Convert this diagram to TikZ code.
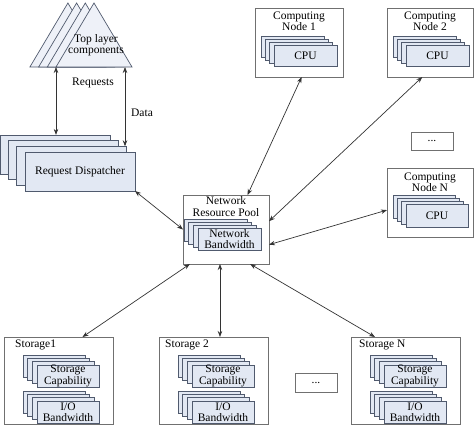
\documentclass[tikz,border=0pt]{standalone}
\usepackage{fontspec}
\setmainfont{Liberation Serif}
\usetikzlibrary{arrows.meta,calc}
\definecolor{stkfill}{HTML}{E2E8F3}
\definecolor{stkline}{HTML}{505A6E}
\definecolor{boxline}{HTML}{707070}
\definecolor{arr}{HTML}{333333}
\tikzset{
  stkbox/.style={draw=stkline, fill=stkfill, line width=0.7pt, inner sep=0pt, outer sep=0pt,
     font=\fontsize{11.5}{11.5}\selectfont, align=center},
  outbox/.style={draw=boxline, fill=white, line width=0.8pt, inner sep=0pt, outer sep=0pt, anchor=north west},
  ttl/.style={font=\fontsize{11.5}{11.5}\selectfont, align=center, inner sep=0pt},
  lbl/.style={font=\fontsize{11.5}{11.5}\selectfont, inner sep=0pt},
  link/.style={draw=arr, line width=0.7pt, {Stealth[length=6pt,width=4.5pt]}-{Stealth[length=6pt,width=4.5pt]}},
  tri/.style={draw=stkline, fill=stkfill!60!white, line width=0.7pt, line join=miter}
}
% #1 name, #2 x, #3 y (front NW), #4 w, #5 h, #6 dx, #7 dy, #8 text
\newcommand\stk[8]{%
  \foreach \i in {3,2,1}{%
    \node[stkbox, minimum width=#4pt, minimum height=#5pt, anchor=north west] (#1\i) at ({#2-\i*#6},{#3-\i*#7}) {};
  }
  \node[stkbox, minimum width=#4pt, minimum height=#5pt, anchor=north west] (#1) at (#2,#3) {#8};
}
\newcommand\obox[5]{% name, x, y, w, h
  \node[outbox, minimum width=#4pt, minimum height=#5pt] (#1) at (#2,#3) {};
}
\begin{document}
\begin{tikzpicture}[x=1pt,y=-1pt]
\useasboundingbox (0,0) rectangle (474,425);
% top layer triangles
\foreach \i in {3,2,1,0}{
  \draw[tri] ({94-8.7*\i},3) -- ({132-8.7*\i},67) -- ({56-8.7*\i},67) -- cycle;
}
\node[ttl] (toplbl) at (96,45) {Top layer\\components};
\coordinate (reqtop) at (56,67);
\coordinate (datatop) at (125,67);
% request dispatcher
\stk{disp}{25}{152}{110}{39}{8.3}{5.7}{Request Dispatcher}
% computing nodes
\obox{n1}{255}{8}{88}{69}
\node[ttl] (n1t) at (299,21.5) {Computing\\Node 1};
\stk{cpua}{274}{45}{63}{21}{4.3}{3}{CPU}
\obox{n2}{387}{8}{86}{69}
\node[ttl] (n2t) at (430,21.5) {Computing\\Node 2};
\stk{cpub}{406}{45}{63}{21}{4.3}{3}{CPU}
\node[outbox, minimum width=42pt, minimum height=18pt, ttl] (dotsa) at (411,132) {};
\node[lbl] (dotsat) at (dotsa.center) {...};
\obox{nN}{387}{168}{86}{69}
\node[ttl] (nNt) at (430,182) {Computing\\Node N};
\stk{cpun}{406}{204}{62}{23}{4.3}{3}{CPU}
% network pool
\obox{pool}{183}{195}{86}{69}
\node[ttl] (poolt) at (226,206.5) {Network\\Resource Pool};
\stk{bw}{198}{228}{63}{22}{4.7}{3}{Network\\Bandwidth}
% storages
\obox{s1}{4}{337}{109}{87}
\node[lbl, anchor=west] (s1t) at (15,345) {Storage1};
\stk{capa}{37}{365}{62}{22}{4.7}{3.3}{Storage\\Capability}
\stk{ioa}{37}{401}{62}{22}{4.7}{3.3}{I/O\\Bandwidth}
\obox{s2}{159}{337}{109}{87}
\node[lbl, anchor=west] (s2t) at (165,345) {Storage 2};
\stk{capb}{192}{365}{62}{22}{4.7}{3.3}{Storage\\Capability}
\stk{iob}{192}{401}{62}{22}{4.7}{3.3}{I/O\\Bandwidth}
\node[outbox, minimum width=42pt, minimum height=19pt] (dotsb) at (295,373) {};
\node[lbl] (dotsbt) at (dotsb.center) {...};
\obox{sN}{351}{337}{109}{87}
\node[lbl, anchor=west] (sNt) at (359,345) {Storage N};
\stk{capn}{384}{365}{62}{22}{4.7}{3.3}{Storage\\Capability}
\stk{ion}{384}{401}{62}{22}{4.7}{3.3}{I/O\\Bandwidth}
% connectors
\draw[link] (reqtop) -- (reqtop |- disp3.north);
\draw[link] (datatop) -- (datatop |- disp1.north);
\node[lbl] (reqlbl) at (93,83) {Requests};
\node[lbl] (datalbl) at (142,113) {Data};
\draw[link] (disp.south east) -- ($(pool.north west)!0.5!(pool.south west)$);
\draw[link] ($(pool.north west)!0.75!(pool.north east)$) -- ($(n1.south west)!0.53!(n1.south east)$);
\draw[link] ($(pool.north east)!0.38!(pool.south east)$) -- ($(n2.south west)!0.41!(n2.south east)$);
\draw[link] ($(pool.north east)!0.72!(pool.south east)$) -- ($(nN.north west)!0.61!(nN.south west)$);
\draw[link] ($(pool.south west)!0.08!(pool.south east)$) -- ($(s1.north west)!0.72!(s1.north east)$);
\coordinate (pb) at ($(pool.south west)!0.43!(pool.south east)$);
\draw[link] (pb) -- (pb |- s2.north);
\draw[link] ($(pool.south west)!0.78!(pool.south east)$) -- ($(sN.north west)!0.22!(sN.north east)$);
\end{tikzpicture}
\end{document}
